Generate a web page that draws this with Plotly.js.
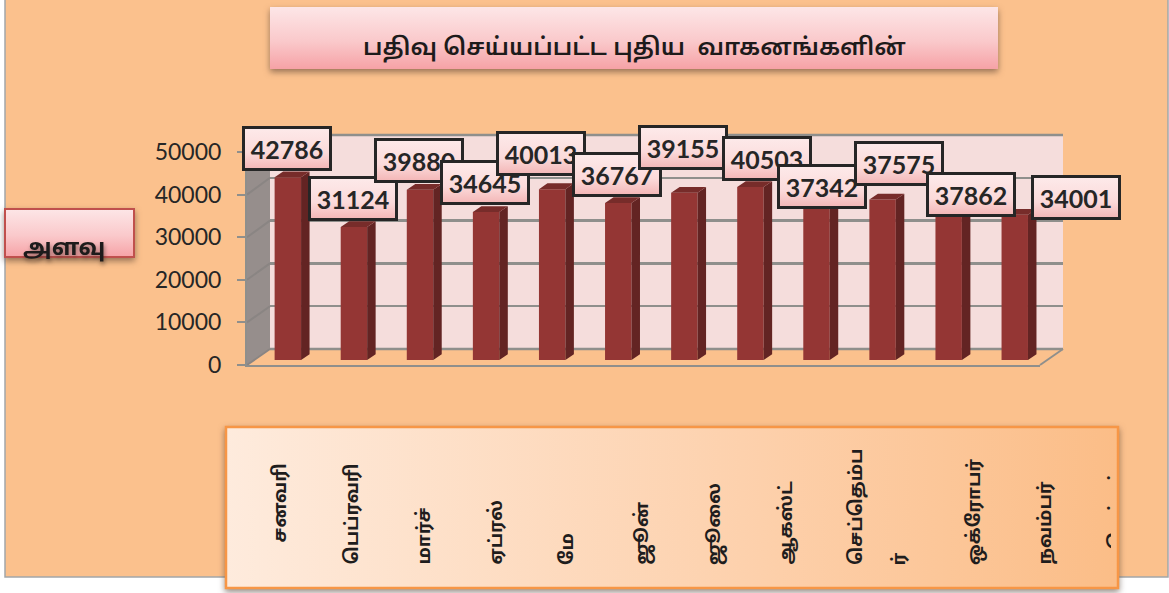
<!DOCTYPE html>
<html>
<head>
<meta charset="utf-8">
<script src="https://cdn.plot.ly/plotly-3.0.1.min.js"></script>
<style>html,body{margin:0;padding:0;background:#fff}#chart{width:1169px;height:593px}</style>
</head>
<body>
<div id="chart"></div>
<script>
// ---------- data ----------
const categories = ["சனவரி","பெப்ரவரி","மார்ச்","ஏப்ரல்","மே","ஜூன்","ஜூலை","ஆகஸ்ட்","செப்தெம்பர்","ஒக்ரோபர்","நவம்பர்","டிசெம்பர்"];
const vehicles = [42786,31124,39880,34645,40013,36767,39155,40503,37342,37575,37862,34001];
const yTicks = [0,10000,20000,30000,40000,50000];
const chartTitle = "பதிவு செய்யப்பட்ட புதிய  வாகனங்களின்";
const axisTitle = "அளவு";

// ---------- layout helpers (pixels on the 1169x593 page) ----------
const W = 1169, H = 593;
const px = v => v / W, py = v => 1 - v / H;
const TAMIL = '"Noto Sans Tamil","Noto Serif Tamil","Noto Sans","Open Sans",sans-serif';
const LATIN = 'Lato,"Open Sans",sans-serif';
const GREY = '#8F8F8C', INK = '#262626';

const yPerPx = 50000 / 213.5;          // scale of the bar plane
const xPerPx = 1 / 66.08;
const barHalf = 0.2;
const depthX = 8.5 * xPerPx, depthY = 5.8 * yPerPx;

const idx = vehicles.map((_, i) => i);
const sideX = [], sideY = [], topX = [], topY = [];
vehicles.forEach((v, i) => {
  const r = i + barHalf, l = i - barHalf;
  sideX.push(r, r + depthX, r + depthX, r, r, null);
  sideY.push(0, depthY, v + depthY, v, 0, null);
  topX.push(l, l + depthX, r + depthX, r, l, null);
  topY.push(v, v + depthY, v + depthY, v, v, null);
});

const traces = [
  {type:'scatter', x:[0], y:[0], xaxis:'x', yaxis:'y', mode:'none', hoverinfo:'skip', showlegend:false},
  {type:'scatter', x:[0], y:[0], xaxis:'x2', yaxis:'y2', mode:'none', hoverinfo:'skip', showlegend:false},
  {type:'bar', x:idx, y:vehicles, xaxis:'x3', yaxis:'y3', width:barHalf*2, marker:{color:'#943634', line:{width:0}}, showlegend:false, hoverinfo:'y'},
  {type:'scatter', x:sideX, y:sideY, xaxis:'x3', yaxis:'y3', mode:'lines', line:{width:0}, fill:'toself', fillcolor:'#632423', hoverinfo:'skip', showlegend:false},
  {type:'scatter', x:topX, y:topY, xaxis:'x3', yaxis:'y3', mode:'lines', line:{width:0}, fill:'toself', fillcolor:'#772C2A', hoverinfo:'skip', showlegend:false}
];

// ---------- decoration ----------
const shapes = [];
const addShape = s => (shapes.push(Object.assign({xref:'paper', yref:'paper', layer:'below'}, s)), shapes.length - 1);
const rectPx = (x0,y0,x1,y1,extra) => Object.assign({type:'rect', x0:px(x0), x1:px(x1), y0:py(y0), y1:py(y1)}, extra);
const pathPx = (pts,extra) => Object.assign({type:'path', path:'M'+pts.map(p=>px(p[0])+','+py(p[1])).join('L')+(extra.fillcolor?'Z':'')}, extra);

addShape(rectPx(5,-3,1168,577,{fillcolor:'#FBC18D', line:{color:'#A3A6A9', width:1.5}}));
addShape(rectPx(270,135,1063,349,{fillcolor:'#F5DDDC', line:{width:0}}));
addShape(pathPx([[270,135],[1063,135]],{line:{color:GREY,width:2.5}}));
addShape(pathPx([[270,349],[1063,349]],{line:{color:GREY,width:2.5}}));
const wallIdx = addShape(pathPx([[247,152],[270,135],[270,349],[247,365]],{fillcolor:'#968E8C', line:{width:0}}));
yTicks.forEach(t => {
  const k = t / 50000;
  addShape(pathPx([[247,365-213*k],[270,349-214*k]],{line:{color:'#8A8583',width:2}}));
});
addShape(pathPx([[1040,365],[1063,349]],{line:{color:GREY,width:2}}));
const titleIdx = addShape(rectPx(270,7,998,69,{fillcolor:'#FBD5D5', line:{width:0}}));
const axisIdx = addShape(rectPx(5,209,134,257,{fillcolor:'#FBD5D5', line:{color:'#C0504D', width:2}}));
const catIdx = addShape(rectPx(226,427,1118,588,{fillcolor:'#FDD8BC', line:{color:'#F79646', width:2.5}}));

// ---------- annotations ----------
const annotations = [];
annotations.push({xref:'paper', yref:'paper', x:px(634), y:py(48.5), xanchor:'center', yanchor:'middle', text:chartTitle, showarrow:false,
  font:{family:TAMIL, size:24, color:'#1d1b1b', weight:600}});
const axisAnn = annotations.length;
annotations.push({xref:'paper', yref:'paper', x:px(64), y:py(250), xanchor:'center', yanchor:'middle', text:axisTitle, showarrow:false,
  font:{family:TAMIL, size:23.5, color:'#1d1b1b', weight:700}});

const labelShift = [[0,29],[0,28.9],[-0.7,29.1],[-0.7,29.1],[-11,35.6],[-0.7,29],[-1,45.3],[16.8,29],[6.3,14.2],[17.3,35.6],[22.4,3.6],[62,17.5]];
const labelStart = annotations.length;
vehicles.forEach((v,i) => annotations.push({xref:'x3', yref:'y3', x:i, y:v, xshift:labelShift[i][0]-0.5, yshift:labelShift[i][1],
  text:String(v), showarrow:false, xanchor:'center', yanchor:'middle', width:78, height:33, borderpad:3, borderwidth:3,
  bordercolor:INK, bgcolor:'#FAD2D2', font:{family:LATIN, size:25, weight:700, color:INK}}));

const labelCols = [281,353,425,497,568,643,715,787,857,975,1046,1117];
const labelBase = [545,567,567,567,567,567,567,567,567,567,567,567];
let lastIdx = 0;
categories.forEach((c,i) => {
  const parts = c === "செப்தெம்பர்" ? ["செப்தெம்ப","ர்"] : [c];
  parts.forEach((p,j) => {
    lastIdx = annotations.length;
    annotations.push({xref:'paper', yref:'paper', x:px(labelCols[i] + j*43), y:py(labelBase[i]), text:p, textangle:-90,
      showarrow:false, xanchor:'center', yanchor:'bottom', font:{family:TAMIL, size:18.5, color:'#1f1d1d', weight:700}});
  });
});

// ---------- axes ----------
const hidden = {showgrid:false, zeroline:false, showticklabels:false, ticks:'', showline:false, fixedrange:true};
const layout = {
  width:W, height:H, margin:{l:0,r:0,t:0,b:0,pad:0}, paper_bgcolor:'rgba(0,0,0,0)', plot_bgcolor:'rgba(0,0,0,0)',
  showlegend:false, barmode:'overlay', shapes, annotations,
  // back wall with its gridlines
  xaxis:Object.assign({},hidden,{domain:[px(270),px(1063)], range:[0,1], anchor:'y'}),
  yaxis:Object.assign({},hidden,{domain:[py(349),py(135)], range:[0,50000], anchor:'x', showgrid:true, gridcolor:GREY, gridwidth:2.5, tickvals:yTicks}),
  // front axis with tick labels
  xaxis2:Object.assign({},hidden,{domain:[px(247),px(1040)], range:[0,1], anchor:'y2', showline:true, linecolor:GREY, linewidth:2}),
  yaxis2:{domain:[py(365),py(152)], range:[0,50000], anchor:'x2', tickvals:yTicks, ticktext:yTicks.map(String), ticks:'outside', ticklen:8, tickwidth:2, tickcolor:GREY,
    showline:true, linecolor:GREY, linewidth:2, showgrid:false, zeroline:false, fixedrange:true, ticklabelstandoff:11,
    tickfont:{family:LATIN, size:23, color:INK}},
  // bar plane
  xaxis3:Object.assign({},hidden,{domain:[px(254.8),px(1047.8)], range:[-0.5,11.5], anchor:'y3'}),
  yaxis3:Object.assign({},hidden,{domain:[py(360),py(146.5)], range:[0,50000], anchor:'x3'})
};

Plotly.newPlot('chart', traces, layout, {displayModeBar:false, staticPlot:true}).then(() => {
  const NS = 'http://www.w3.org/2000/svg';
  const svg = document.querySelector('#chart .main-svg');
  let defs = svg.querySelector('defs');
  if (!defs) { defs = document.createElementNS(NS,'defs'); svg.insertBefore(defs, svg.firstChild); }
  const grad = (id, stops, horiz) => {
    const g = document.createElementNS(NS,'linearGradient');
    g.setAttribute('id',id); g.setAttribute('x1','0'); g.setAttribute('y1','0');
    g.setAttribute('x2',horiz?'1':'0'); g.setAttribute('y2',horiz?'0':'1');
    stops.forEach(s => { const e = document.createElementNS(NS,'stop'); e.setAttribute('offset',s[0]); e.setAttribute('stop-color',s[1]); g.appendChild(e); });
    defs.appendChild(g);
  };
  grad('gBox',[[0,'#FDE6E7'],[0.55,'#FAC9CB'],[1,'#F6A2A6']]);
  grad('gLabel',[[0,'#FDEAEA'],[0.6,'#FBDADA'],[1,'#F3B5B5']]);
  grad('gCat',[[0,'#FEEBDD'],[0.6,'#FDD0AB'],[1,'#FBBD87']],true);
  const clip = document.createElementNS(NS,'clipPath'); clip.setAttribute('id','catClip');
  const cr = document.createElementNS(NS,'rect'); cr.setAttribute('width',1111); cr.setAttribute('height',H);
  clip.appendChild(cr); defs.appendChild(clip);

  const shp = i => document.querySelector('#chart .layer-below .shapelayer path[data-index="'+i+'"]');
  const paint = (i, g, shadow) => { const e = shp(i); if(!e) return; e.style.fill = 'url(#'+g+')'; e.style.fillOpacity = 1;
    if (shadow) e.style.filter = 'drop-shadow(0px 3px 3px rgba(70,50,40,.55))'; };
  paint(titleIdx,'gBox',true); paint(axisIdx,'gBox',true); paint(catIdx,'gCat',true);

  document.querySelectorAll('#chart g.annotation').forEach(g => {
    const i = +g.getAttribute('data-index');
    if (i >= labelStart && i < labelStart + vehicles.length) {
      const r = g.querySelector('rect.bg'); if (r) r.style.fill = 'url(#gLabel)';
    }
    if (i === axisAnn) { const t = g.querySelector('text'); if (t) t.style.filter = 'drop-shadow(1px 3px 2px rgba(60,40,30,.55))'; }
    if (i === lastIdx) g.setAttribute('clip-path','url(#catClip)');
  });
});
</script>
</body>
</html>
